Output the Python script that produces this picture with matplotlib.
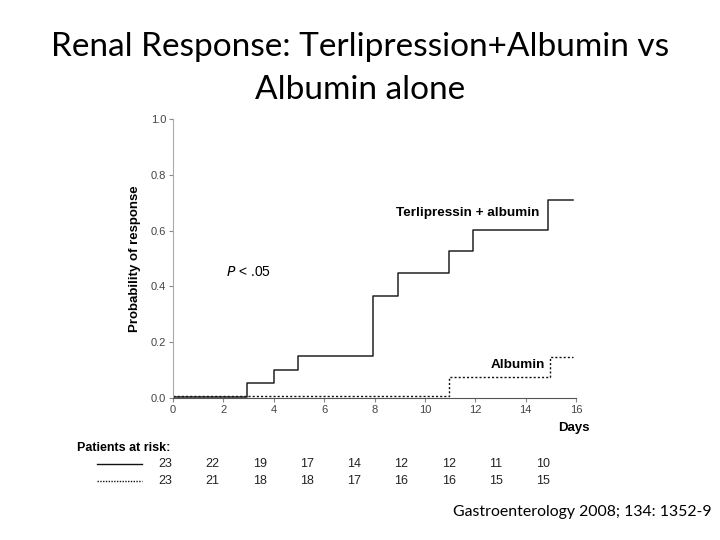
import numpy as np
import matplotlib; matplotlib.use("Agg"); import matplotlib.pyplot as plt

# step curves (time of step, value after step)
terli_t = [0, 2.94, 4.0, 4.97, 7.95, 8.94, 10.95, 11.92, 14.9, 15.9]
terli_y = [0.005, 0.055, 0.10, 0.152, 0.366, 0.448, 0.527, 0.602, 0.711, 0.711]
alb_t = [0, 10.95, 14.97, 15.9]
alb_y = [0.008, 0.075, 0.147, 0.147]

risk_terli = [23, 22, 19, 17, 14, 12, 12, 11, 10]
risk_alb = [23, 21, 18, 18, 17, 16, 16, 15, 15]

W, H = 720, 540
fig = plt.figure(figsize=(7.2, 5.4), dpi=100)
fig.patch.set_facecolor("white")
sans = "Liberation Sans"

fig.text(360 / W, 1 - 47 / H, "Renal Response: Terlipression+Albumin vs",
         ha="center", va="center", fontsize=24, family="Lato")
fig.text(360 / W, 1 - 90 / H, "Albumin alone",
         ha="center", va="center", fontsize=24, family="Lato")

ax = fig.add_axes([173 / W, 1 - 398 / H, (576 - 173) / W, (398 - 119) / H])
ax.step(terli_t, terli_y, where="post", color="#222222", lw=1.1)
ax.step(alb_t, alb_y, where="post", color="#111111", lw=1.0, ls=(0, (1.5, 1.5)))
ax.set_xlim(0, 16); ax.set_ylim(0, 1.0)
ax.set_xticks(np.arange(0, 17, 2))
ax.set_yticks(np.arange(0, 1.01, 0.2))
ax.set_yticklabels([f"{v:.1f}" for v in np.arange(0, 1.01, 0.2)])
for s in ["top", "right"]:
    ax.spines[s].set_visible(False)
ax.spines["left"].set_color("#aaaaaa"); ax.spines["left"].set_linewidth(0.8)
ax.spines["bottom"].set_color("#555555"); ax.spines["bottom"].set_linewidth(0.8)
ax.spines["left"].set_bounds(0, 1.0); ax.spines["bottom"].set_bounds(0, 16)
ax.tick_params(colors="#888888", labelcolor="#444444", labelsize=8, length=3, width=0.8, pad=2)
for lab in ax.get_xticklabels() + ax.get_yticklabels():
    lab.set_family(sans)
ax.set_ylabel("Probability of response", fontsize=9.5, fontweight="bold", family=sans, labelpad=7)
ax.text(14.54, 0.663, "Terlipressin + albumin", ha="right", va="center",
        fontsize=9.7, fontweight="bold", family=sans)
ax.text(14.77, 0.117, "Albumin", ha="right", va="center",
        fontsize=9.7, fontweight="bold", family=sans)
ax.text(2.1, 0.45, r"$\it{P}$ < .05", ha="left", va="center", fontsize=10, family=sans)
ax.text(16.55, -0.107, "Days", ha="right", va="center", fontsize=9.5,
        fontweight="bold", family=sans, clip_on=False)

# patients at risk table
fig.text(77 / W, 1 - 448 / H, "Patients at risk:", ha="left", va="center",
         fontsize=9, fontweight="bold", family=sans)
fig.add_artist(plt.Line2D([97 / W, 142 / W], [1 - 464 / H] * 2, color="#111111", lw=1.0))
fig.add_artist(plt.Line2D([97 / W, 142 / W], [1 - 481 / H] * 2, color="#111111", lw=1.0,
                          ls=(0, (1, 1))))
for i, (a, b) in enumerate(zip(risk_terli, risk_alb)):
    xp = (165 + 47.3 * i) / W
    fig.text(xp, 1 - 464 / H, str(a), ha="center", va="center", fontsize=9, family=sans, color="#222222")
    fig.text(xp, 1 - 481 / H, str(b), ha="center", va="center", fontsize=9, family=sans, color="#222222")

fig.text(712 / W, 1 - 512 / H, "Gastroenterology 2008; 134: 1352-9", ha="right", va="center",
         fontsize=11.4, family="Lato")

fig.savefig("out.png", dpi=100)
